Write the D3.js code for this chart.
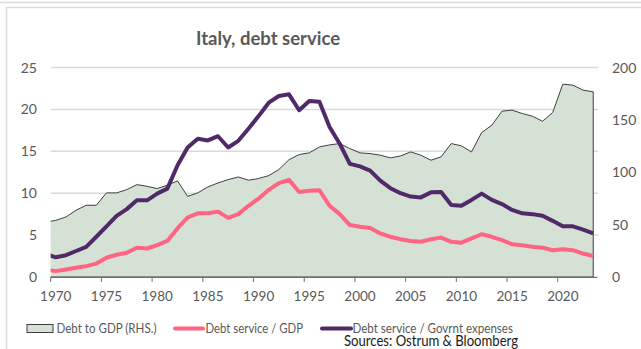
<!DOCTYPE html>
<html>
<head>
<meta charset="utf-8">
<script src="https://cdn.jsdelivr.net/npm/d3@7"></script>
<style>
  html, body { margin: 0; padding: 0; background: #fff; }
  svg { display: block; font-family: Lato, "Open Sans", sans-serif; }
</style>
</head>
<body>
<svg id="chart" width="641" height="349"></svg>
<script>
// Yearly observations; each year is drawn at the middle of its slot.
const years = d3.range(1969, 2024);

// Public debt, % of GDP (right axis)
const debtToGdp = [
  52.3, 54.1, 57.3, 63.7, 68.5, 68.5, 80.3, 80.3, 83.4, 88.2,
  86.6, 84.4, 87.6, 91.7, 77.0, 80.3, 86.0, 89.8, 93.0, 95.5,
  92.4, 94.0, 96.8, 102.6, 112.0, 116.9, 118.5, 124.2, 126.1, 127.4,
  122.6, 118.5, 117.8, 116.3, 113.7, 115.6, 119.4, 116.3, 111.5, 114.7,
  127.4, 125.2, 119.4, 137.9, 144.9, 158.3, 159.3, 156.1, 153.5, 148.7,
  157.0, 184.1, 183.1, 178.4, 176.8
];

// Interest paid, % of GDP (left axis)
const serviceToGdp = [
  0.9, 0.7, 0.9, 1.1, 1.3, 1.6, 2.3, 2.65, 2.9, 3.5,
  3.4, 3.8, 4.3, 5.8, 7.1, 7.6, 7.6, 7.8, 7.05, 7.5,
  8.5, 9.35, 10.4, 11.2, 11.6, 10.15, 10.3, 10.35, 8.5, 7.5,
  6.2, 6.0, 5.85, 5.2, 4.8, 4.5, 4.3, 4.2, 4.5, 4.7,
  4.2, 4.1, 4.6, 5.1, 4.8, 4.4, 3.9, 3.8, 3.6, 3.5,
  3.2, 3.3, 3.2, 2.8, 2.5
];

// Interest paid, % of government expenses (left axis)
const serviceToExpenses = [
  2.75, 2.35, 2.6, 3.1, 3.6, 4.8, 6.05, 7.3, 8.1, 9.15,
  9.15, 9.95, 10.55, 13.3, 15.45, 16.5, 16.3, 16.8, 15.45, 16.25,
  17.7, 19.2, 20.8, 21.6, 21.8, 19.9, 21.0, 20.9, 17.9, 15.9,
  13.5, 13.2, 12.7, 11.5, 10.6, 10.0, 9.6, 9.5, 10.1, 10.15,
  8.6, 8.5, 9.2, 9.95, 9.2, 8.7, 8.0, 7.6, 7.5, 7.3,
  6.7, 6.05, 6.05, 5.65, 5.2
];

const leftTicks = [0, 5, 10, 15, 20, 25];
const rightTicks = [0, 50, 100, 150, 200];
const yearTicks = [1970, 1975, 1980, 1985, 1990, 1995, 2000, 2005, 2010, 2015, 2020];

const titleText = "Italy, debt service";
const legendLabels = ["Debt to GDP (RHS.)", "Debt service / GDP", "Debt service / Govrnt expenses"];
const sourceText = "Sources: Ostrum & Bloomberg";

const colors = {
  area: "#d5e1d4",
  areaEdge: "#3f3f3f",
  red: "#ff6482",
  purple: "#502a68",
  grid: "#d9d9d9",
  axis: "#6e6e6e",
  text: "#595959",
  frame: "#d9d9d9"
};

const svg = d3.select("#chart");

// Panel frame
svg.append("line").attr("x1", 0).attr("x2", 641).attr("y1", 2.5).attr("y2", 2.5)
  .attr("stroke", colors.frame).attr("stroke-width", 1.5);
svg.append("path").attr("d", "M6.5,349 V7.5 H641")
  .attr("fill", "none").attr("stroke", colors.frame).attr("stroke-width", 1.5);

const plot = { left: 50.7, right: 598.3, top: 67.5, bottom: 277 };

const x = d3.scaleLinear().domain([1970, 2024]).range([plot.left, plot.right]);
const yL = d3.scaleLinear().domain([0, 25]).range([plot.bottom, plot.top]);
const yR = d3.scaleLinear().domain([0, 200]).range([plot.bottom, plot.top]);
const mid = yr => x(yr + 0.5);

// Title
svg.append("text").attr("x", 268).attr("y", 45)
  .attr("text-anchor", "middle").attr("fill", colors.text)
  .attr("font-size", 18.5).attr("font-weight", 700).text(titleText);

// Gridlines
svg.append("g").selectAll("line").data(leftTicks).join("line")
  .attr("x1", plot.left).attr("x2", plot.right)
  .attr("y1", d => yL(d)).attr("y2", d => yL(d))
  .attr("stroke", colors.grid).attr("stroke-width", 1.5);

// Clip to the plot area
svg.append("clipPath").attr("id", "plotClip").append("rect")
  .attr("x", plot.left).attr("y", 0)
  .attr("width", plot.right - plot.left).attr("height", plot.bottom + 1);

const g = svg.append("g").attr("clip-path", "url(#plotClip)");

const area = d3.area()
  .x((d, i) => mid(years[i]))
  .y0(yR(0))
  .y1(d => yR(d));
g.append("path").datum(debtToGdp).attr("d", area)
  .attr("fill", colors.area).attr("stroke", colors.areaEdge).attr("stroke-width", 1);

const lineL = d3.line().x((d, i) => mid(years[i])).y(d => yL(d));
g.append("path").datum(serviceToGdp).attr("d", lineL)
  .attr("fill", "none").attr("stroke", colors.red).attr("stroke-width", 4)
  .attr("stroke-linejoin", "round");
g.append("path").datum(serviceToExpenses).attr("d", lineL)
  .attr("fill", "none").attr("stroke", colors.purple).attr("stroke-width", 4)
  .attr("stroke-linejoin", "round");

// Bottom axis: ticks on slot boundaries, labels centred on the year
const xAxis = svg.append("g");
xAxis.append("line").attr("x1", plot.left).attr("x2", plot.right - 1.5)
  .attr("y1", plot.bottom + 0.5).attr("y2", plot.bottom + 0.5)
  .attr("stroke", colors.axis).attr("stroke-width", 1);
xAxis.selectAll("line.tick").data(yearTicks).join("line").attr("class", "tick")
  .attr("x1", d => x(d)).attr("x2", d => x(d))
  .attr("y1", plot.bottom + 0.5).attr("y2", plot.bottom + 5)
  .attr("stroke", colors.axis).attr("stroke-width", 1);
xAxis.selectAll("text").data(yearTicks).join("text")
  .attr("x", d => mid(d)).attr("y", 301)
  .attr("text-anchor", "middle").attr("fill", colors.text)
  .attr("font-size", 13.5).text(d => d);

// Left axis labels
svg.append("g").selectAll("text").data(leftTicks).join("text")
  .attr("x", 37).attr("y", d => yL(d) + 5)
  .attr("text-anchor", "end").attr("fill", colors.text)
  .attr("font-size", 14).text(d => d);

// Right axis labels
svg.append("g").selectAll("text").data(rightTicks).join("text")
  .attr("x", 612).attr("y", d => yR(d) + 5)
  .attr("text-anchor", "start").attr("fill", colors.text)
  .attr("font-size", 14).text(d => d);

// Legend
const legend = svg.append("g").attr("font-size", 12.5).attr("fill", colors.text)
  .attr("lengthAdjust", "spacingAndGlyphs");
legend.append("rect").attr("x", 27).attr("y", 324.5).attr("width", 26).attr("height", 8)
  .attr("fill", colors.area).attr("stroke", colors.areaEdge).attr("stroke-width", 1);
legend.append("text").attr("x", 56.5).attr("y", 333)
  .attr("textLength", 100).attr("lengthAdjust", "spacingAndGlyphs").text(legendLabels[0]);
legend.append("line").attr("x1", 175).attr("x2", 203).attr("y1", 328.5).attr("y2", 328.5)
  .attr("stroke", colors.red).attr("stroke-width", 4).attr("stroke-linecap", "round");
legend.append("text").attr("x", 205.5).attr("y", 333)
  .attr("textLength", 97.5).attr("lengthAdjust", "spacingAndGlyphs").text(legendLabels[1]);
legend.append("line").attr("x1", 322).attr("x2", 351).attr("y1", 328.5).attr("y2", 328.5)
  .attr("stroke", colors.purple).attr("stroke-width", 4).attr("stroke-linecap", "round");
legend.append("text").attr("x", 352.5).attr("y", 333)
  .attr("textLength", 160.5).attr("lengthAdjust", "spacingAndGlyphs").text(legendLabels[2]);

// Source note
svg.append("text").attr("x", 344).attr("y", 346)
  .attr("fill", "#1a1a1a").attr("font-size", 14.5)
  .attr("textLength", 174).attr("lengthAdjust", "spacingAndGlyphs").text(sourceText);
</script>
</body>
</html>
